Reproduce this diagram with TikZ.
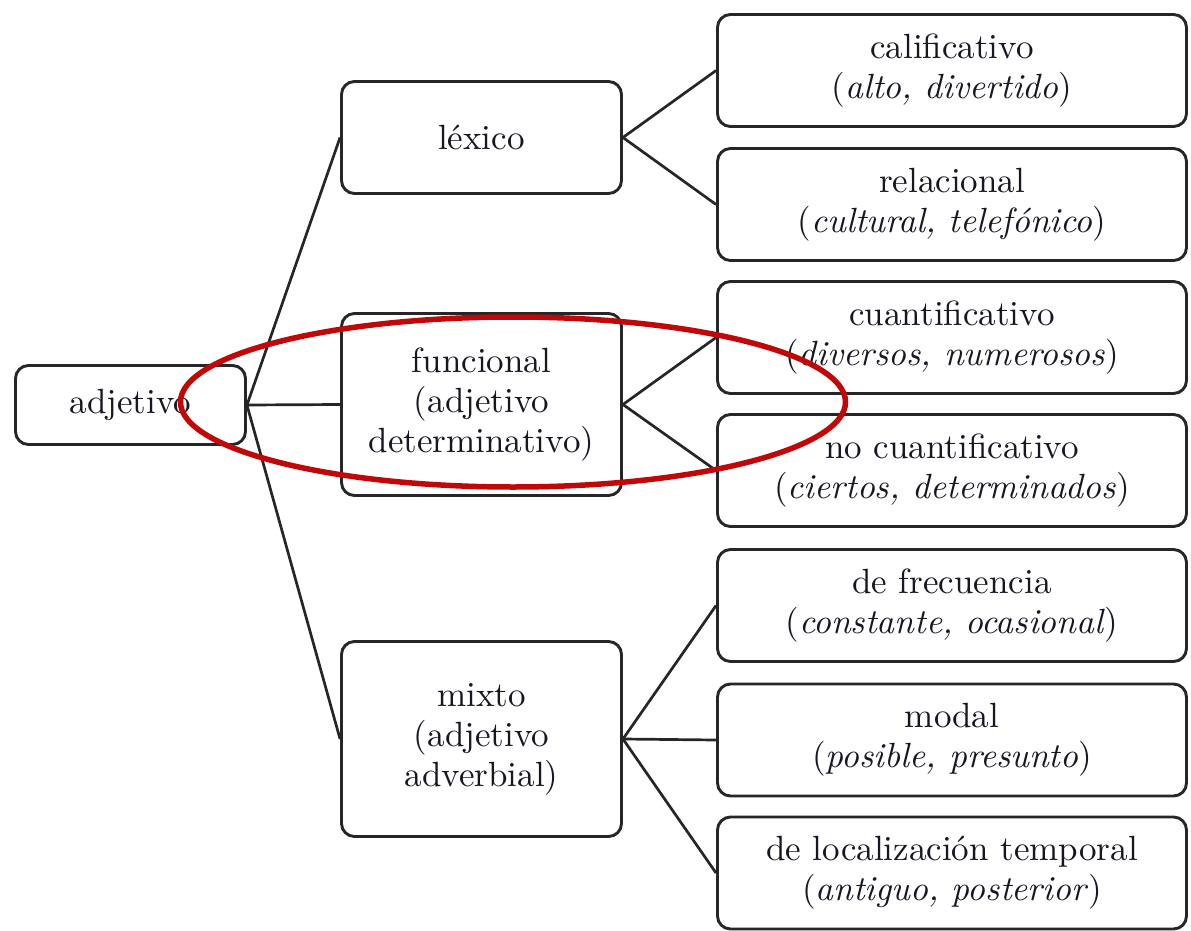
\documentclass[tikz,border=0pt]{standalone}
\usepackage{fontspec}
\setmainfont{lmroman10-regular.otf}[ItalicFont=lmroman10-italic.otf]
\usepackage{tikz}

\definecolor{linegray}{RGB}{38,38,40}
\definecolor{textgray}{RGB}{24,22,34}
\definecolor{ringred}{RGB}{192,8,8}

\tikzset{
  box/.style={draw=linegray, line width=2.9pt, rounded corners=13pt, align=center,
    inner sep=0pt, text=textgray, font=\fontsize{35}{40}\selectfont},
  midbox/.style={box, minimum width=280pt},
  subbox/.style={box, minimum width=469pt, minimum height=112pt},
  link/.style={draw=linegray, line width=2.7pt},
  ring/.style={draw=ringred, line width=5.5pt}
}

\begin{document}
\begin{tikzpicture}[x=1pt,y=-1pt]
\useasboundingbox (0,0) rectangle (1191,931);

\node[box, minimum width=230pt, minimum height=79pt] (adj) at (130.5,405) {adjetivo};

\node[midbox, minimum height=112pt] (lex) at (481.5,137.5) {léxico};
\node[midbox, minimum height=182pt] (fun) at (481.5,404.5) {funcional\\(adjetivo\\determinativo)};
\node[midbox, minimum height=195pt] (mix) at (481.5,739) {mixto\\(adjetivo\\adverbial)};

\foreach \n/\y/\a/\b in {cal/70.5/calificativo/{alto, divertido},
    rel/204.5/relacional/{cultural, telefónico},
    cua/337.5/cuantificativo/{diversos, numerosos},
    noc/470.5/no cuantificativo/{ciertos, determinados},
    fre/605.5/de frecuencia/{constante, ocasional},
    mod/740/modal/{posible, presunto},
    loc/873/de localización temporal/{antiguo, posterior}}
  \node[subbox] (\n) at (952,\y) {\a\\(\textit{\b})};

\foreach \s/\t in {adj/lex, adj/fun, adj/mix, lex/cal, lex/rel, fun/cua, fun/noc,
    mix/fre, mix/mod, mix/loc}
  \draw[link] (\s.east) -- (\t.west);

\draw[ring] (513,402) ellipse [x radius=332.5pt, y radius=85pt];
\end{tikzpicture}
\end{document}
